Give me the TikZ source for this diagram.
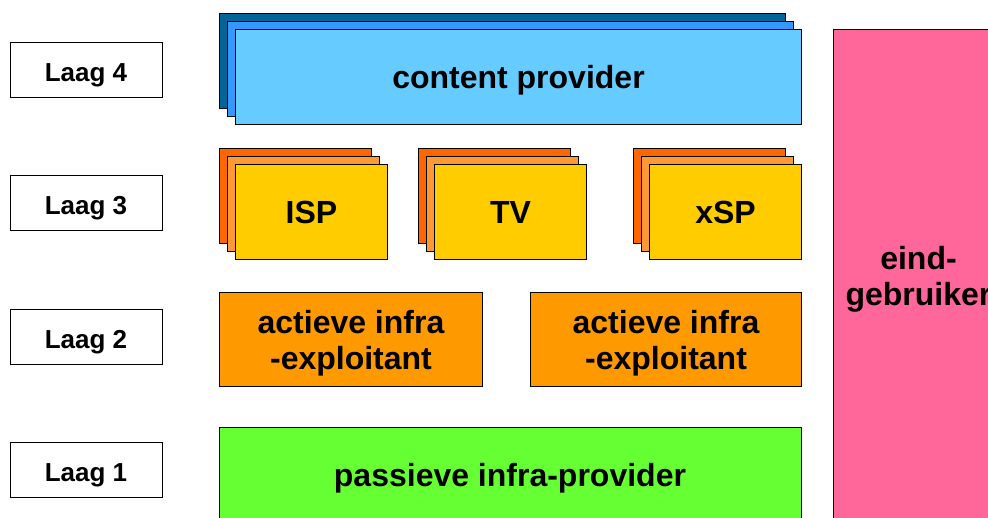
\documentclass[tikz,border=0pt]{standalone}
\usepackage{fontspec}
\setmainfont{Liberation Sans}
\usetikzlibrary{positioning}

\definecolor{cpdark}{HTML}{006699}
\definecolor{cpmid}{HTML}{3399FF}
\definecolor{cplight}{HTML}{66CCFF}
\definecolor{spdark}{HTML}{FF6600}
\definecolor{spmid}{HTML}{FF9933}
\definecolor{spfront}{HTML}{FFCC00}
\definecolor{actief}{HTML}{FF9900}
\definecolor{passief}{HTML}{66FF33}
\definecolor{eind}{HTML}{FF6699}

\tikzset{
  laag/.style={draw=black, line width=1pt, minimum width=152pt, minimum height=55pt,
    inner sep=0pt, text height=23.6pt, text depth=0pt, font=\fontsize{26}{30}\selectfont\bfseries},
  blok/.style={draw=black, line width=1pt, inner sep=0pt, align=center, text depth=0pt,
    anchor=north west, font=\fontsize{32}{36}\selectfont\bfseries},
  achter/.style={draw=black, line width=1pt},
}

\begin{document}
\begin{tikzpicture}[x=1pt, y=-1pt]
    \useasboundingbox (0,0) rectangle (988,517);
    \clip (0,0) rectangle (988,517);

    % lagen
    \node[laag] (laag4) at (86,69.5) {Laag 4};
    \node[laag, below=77.5pt of laag4] (laag3) {Laag 3};
    \node[laag, below=77.5pt of laag3] (laag2) {Laag 2};
    \node[laag, below=77.5pt of laag2] (laag1) {Laag 1};

    % laag 4
    \foreach \d/\c in {0/cpdark, 8/cpmid}
        \draw[achter, fill=\c] (219+\d,13+\d) rectangle ++(566,95);
    \node[blok, fill=cplight, minimum width=566pt, minimum height=95pt] (content) at (235,29) {content provider};

    % laag 3
    \foreach \x/\naam/\tekst in {219/isp/ISP, 418/tv/TV, 633/xsp/xSP} {
        \draw[achter, fill=spdark] (\x,148) rectangle ++(152,95);
        \draw[achter, fill=spmid] (\x+8,156) rectangle ++(152,95);
        \node[blok, fill=spfront, minimum width=152pt, minimum height=95pt] (\naam) at (\x+16,164) {\tekst};
    }

    % laag 2
    \node[blok, fill=actief, minimum width=263pt, minimum height=94pt] (actief1) at (219,292) {actieve infra\\-exploitant};
    \node[blok, fill=actief, minimum width=271pt, minimum height=94pt] (actief2) at (530,292) {actieve infra\\-exploitant};

    % laag 1
    \node[blok, fill=passief, minimum width=582pt, minimum height=100pt] (passief) at (219,427) {};
    \node[font=\fontsize{32}{36}\selectfont\bfseries, text depth=0pt] (passieftekst) at (510,475) {passieve infra-provider};

    % eindgebruiker
    \node[blok, text depth=, fill=eind, minimum width=170pt, minimum height=500pt] (eindgebruiker) at (833,29) {eind-\\gebruiker};
\end{tikzpicture}
\end{document}
